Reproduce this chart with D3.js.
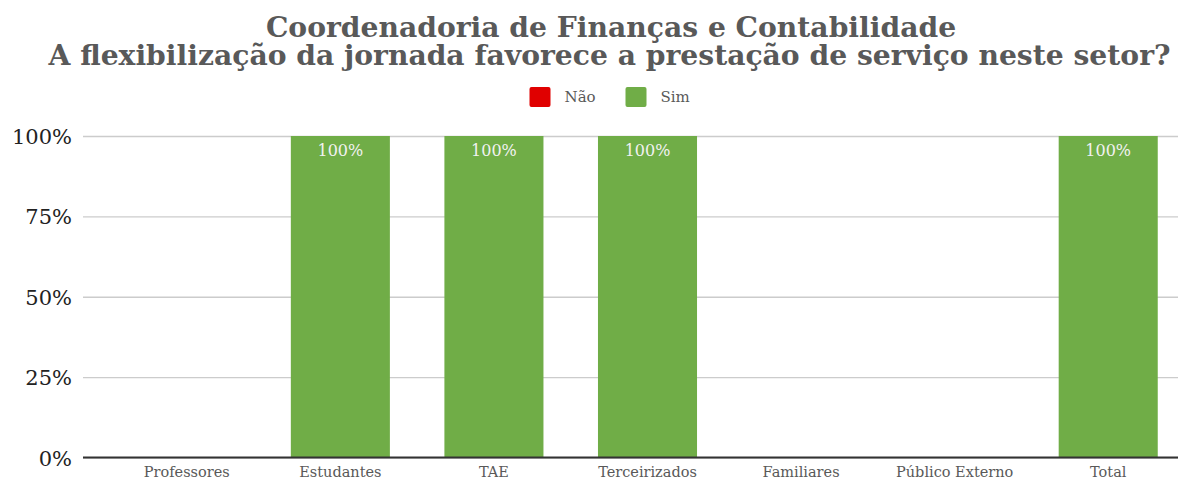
<!DOCTYPE html>
<html><head><meta charset="utf-8">
<script src="https://cdn.jsdelivr.net/npm/d3@7"></script>
<style>body{margin:0;background:#fff}svg{display:block}</style>
</head><body>
<script>
const categories = ["Professores","Estudantes","TAE","Terceirizados","Familiares","Público Externo","Total"];
const nao = [0,0,0,0,0,0,0];
const sim = [0,1,1,1,0,0,1];
const yTicks = [0,0.25,0.5,0.75,1];
const seriesNames = ["Não","Sim"];
const seriesColors = ["#e00000","#70ad47"];
const titleLines = ["Coordenadoria de Finanças e Contabilidade","A flexibilização da jornada favorece a prestação de serviço neste setor?"];

const W=1178,H=479;
const svg=d3.select("body").append("svg").attr("width",W).attr("height",H);
const serif="'DejaVu Serif',serif";

const x=d3.scaleBand().domain(categories).range([110,1185]).paddingInner(0.355).paddingOuter(0.1775);
const y=d3.scaleLinear().domain([0,1]).range([457.5,136]);

// title
svg.selectAll("text.title").data(titleLines).join("text")
  .attr("x",(d,i)=> i===0?611:609.5).attr("y",(d,i)=>36.5+i*28.5)
  .attr("text-anchor","middle").attr("font-family",serif)
  .attr("font-weight","bold").attr("font-size",28.2).attr("fill","#595959").text(d=>d);

// legend
const leg=svg.append("g");
const legX=[529.5,625.5];
seriesNames.forEach((n,i)=>{
  leg.append("rect").attr("x",legX[i]).attr("y",87).attr("width",21).attr("height",20).attr("rx",2).attr("fill",seriesColors[i]);
  leg.append("text").attr("x",legX[i]+35).attr("y",102).attr("font-family",serif)
    .attr("font-size",15).attr("fill","#595959").text(n);
});

// grid + y axis
const yAxis=d3.axisLeft(y).tickValues(yTicks).tickFormat(d3.format(".0%")).tickSize(-(1178-83)).tickPadding(11);
const ga=svg.append("g").attr("transform","translate(83,0)").call(yAxis);
ga.select(".domain").remove();
ga.selectAll(".tick line").attr("stroke","#cccccc").attr("stroke-width",1.3);
ga.selectAll(".tick text").attr("font-family",serif).attr("font-size",21).attr("fill","#222").attr("dy","0.36em");

// bars (stacked)
const stackData=categories.map((c,i)=>({c,nao:nao[i],sim:sim[i]}));
const stacked=d3.stack().keys(["nao","sim"])(stackData);
stacked.forEach((s,si)=>{
  svg.append("g").selectAll("rect").data(s.filter(d=>d[1]-d[0]>0)).join("rect")
    .attr("x",d=>x(d.data.c)).attr("width",x.bandwidth())
    .attr("y",d=>y(d[1])).attr("height",d=>y(d[0])-y(d[1]))
    .attr("fill",seriesColors[si]);
  svg.append("g").selectAll("text").data(s.filter(d=>d[1]-d[0]>0)).join("text")
    .attr("x",d=>x(d.data.c)+x.bandwidth()/2).attr("y",d=>y(d[1])+20)
    .attr("text-anchor","middle").attr("font-family",serif).attr("font-size",16).attr("fill","#f2f2f2")
    .text(d=>d3.format(".0%")(d[1]-d[0]));
});

// baseline
svg.append("line").attr("x1",83).attr("x2",1178).attr("y1",y(0)).attr("y2",y(0)).attr("stroke","#333").attr("stroke-width",2);

// x axis labels
const xAxis=d3.axisBottom(x).tickSize(0).tickPadding(0);
const gx=svg.append("g").attr("transform",`translate(0,${y(0)})`).call(xAxis);
gx.select(".domain").remove();
gx.selectAll("text").attr("font-family",serif).attr("font-size",14.5).attr("fill","#595959").attr("dy",null).attr("y",19);
</script>
</body></html>
